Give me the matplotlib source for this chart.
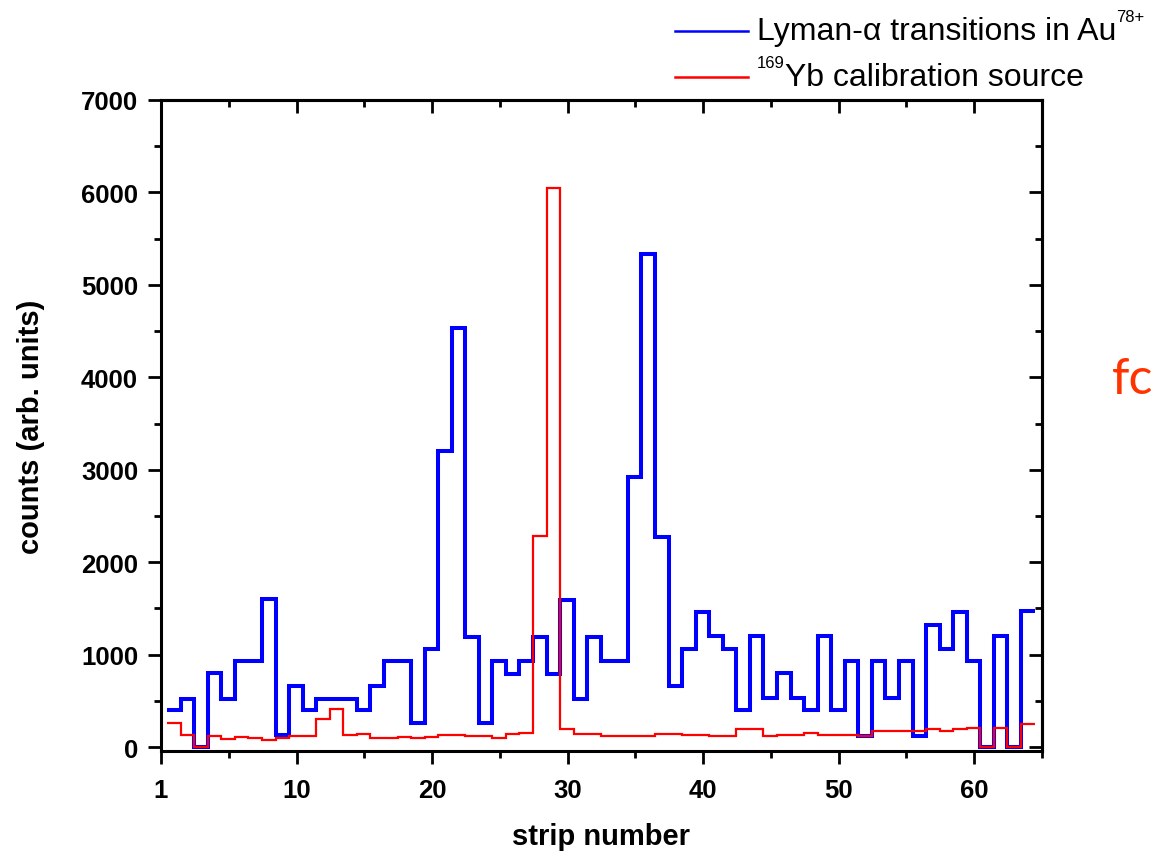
import numpy as np
import matplotlib
matplotlib.use("Agg")
import matplotlib.pyplot as plt
from matplotlib.lines import Line2D

plt.rcParams['font.family'] = ['Liberation Sans', 'DejaVu Sans']

# ---------------- data ----------------
strips = np.arange(1, 65)
lyman_counts = [400, 520, 0, 800, 520, 930, 930, 1600, 130, 660,
                400, 520, 520, 520, 400, 660, 930, 930, 260, 1060,
                3200, 4530, 1190, 260, 930, 790, 930, 1190, 790, 1590,
                520, 1190, 930, 930, 2920, 5330, 2270, 660, 1060, 1460,
                1200, 1060, 400, 1200, 530, 800, 530, 400, 1200, 400,
                930, 120, 930, 530, 930, 120, 1320, 1060, 1460, 930,
                0, 1200, 0, 1470]
yb_counts = [260, 130, 0, 120, 85, 105, 100, 80, 100, 115,
             115, 300, 410, 130, 140, 100, 95, 110, 100, 110,
             130, 125, 116, 116, 100, 137, 152, 2280, 6050, 190,
             140, 140, 120, 115, 115, 120, 140, 140, 130, 130,
             120, 120, 190, 190, 115, 130, 130, 152, 135, 135,
             130, 115, 170, 170, 170, 175, 200, 175, 190, 205,
             0, 205, 0, 250]
x_ticks = [0, 10, 20, 30, 40, 50, 60]
x_ticklabels = ['1', '10', '20', '30', '40', '50', '60']
y_ticks = [0, 1000, 2000, 3000, 4000, 5000, 6000, 7000]

W, H = 1153, 853
fig = plt.figure(figsize=(W / 100, H / 100), dpi=100)
ax = fig.add_axes([161 / W, 1 - 752 / H, (1042 - 161) / W, (752 - 101) / H])

edges = np.r_[strips - 0.55, strips[-1] + 0.45]
ax.stairs(lyman_counts, edges, color='#0000ff', lw=2.9, baseline=None)
ax.stairs(yb_counts, edges, color='#ff0000', lw=1.6, baseline=None)

ax.set_xlim(0, 65)
ax.set_ylim(-43, 7000)

# bottom / left: outward ticks with labels
ax.set_xticks(x_ticks)
ax.set_xticklabels(x_ticklabels)
ax.set_xticks(np.arange(5, 66, 10), minor=True)
ax.set_yticks(y_ticks)
ax.set_yticks(np.arange(500, 7000, 1000), minor=True)
ax.tick_params(which='major', direction='out', length=9.5, width=2, labelsize=18.5, pad=7)
ax.tick_params(axis='x', which='major', pad=10)
ax.tick_params(which='minor', direction='out', length=5, width=2)
for lbl in ax.get_xticklabels() + ax.get_yticklabels():
    lbl.set_fontweight('bold')

# top / right: inward mirror ticks
top = ax.secondary_xaxis('top')
top.set_xticks(x_ticks)
top.set_xticks(np.arange(5, 66, 10), minor=True)
top.tick_params(which='major', direction='in', length=9.5, width=2, labeltop=False)
top.tick_params(which='minor', direction='in', length=5, width=2)
right = ax.secondary_yaxis('right')
right.set_yticks(y_ticks)
right.set_yticks(np.arange(500, 7000, 1000), minor=True)
right.tick_params(which='major', direction='in', length=9.5, width=2, labelright=False)
right.tick_params(which='minor', direction='in', length=5, width=2)
for sp in list(ax.spines.values()) + [top.spines['top'], right.spines['right']]:
    sp.set_linewidth(2.2)

ax.set_xlabel('strip number', fontsize=21, fontweight='bold', labelpad=14)
ax.set_ylabel('counts (arb. units)', fontsize=21, fontweight='bold', labelpad=26)

# ---------------- legend (outside, top right) ----------------
fig.add_artist(Line2D([675 / W, 748 / W], [1 - 32 / H, 1 - 32 / H], color='#0000ff', lw=1.8))
fig.add_artist(Line2D([675 / W, 748 / W], [1 - 78 / H, 1 - 78 / H], color='#ff0000', lw=1.8))
t1 = fig.text(757 / W, 1 - 32 / H, 'Lyman-α transitions in Au', fontsize=23, va='center', ha='left')
ax.annotate('78+', xy=(1.0, 0.72), xycoords=t1, fontsize=12, va='bottom', ha='left',
            annotation_clip=False)
t2 = fig.text(757 / W, 1 - 64 / H, '169', fontsize=12, va='center', ha='left')
ax.annotate('Yb calibration source', xy=(1.0, 0.5), xycoords=t2, xytext=(0, -14),
            textcoords='offset pixels', fontsize=23, va='center', ha='left',
            annotation_clip=False)

# stray slide text cut at the right edge
fig.text(1112 / W, 1 - 380 / H, 'fc', fontsize=36, color='#ff3300', va='center', ha='left',
         family=['Lato', 'DejaVu Sans'])

fig.savefig('out.png', dpi=100)
